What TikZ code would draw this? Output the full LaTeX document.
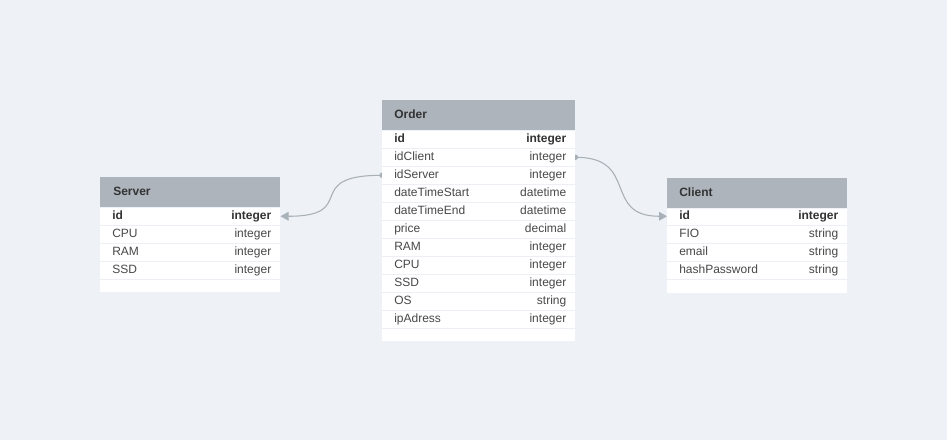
\documentclass[tikz,border=0pt]{standalone}
\usepackage{fontspec}
\setmainfont{Liberation Sans}
\usetikzlibrary{arrows.meta}
\definecolor{canvas}{RGB}{238,241,245}
\definecolor{hdrgray}{RGB}{173,180,188}
\definecolor{rowsep}{RGB}{236,240,244}
\definecolor{txtmain}{RGB}{72,72,72}
\definecolor{txtbold}{RGB}{51,51,51}
\definecolor{linkgray}{RGB}{168,176,184}
\pgfdeclarelayer{bg}
\pgfdeclarelayer{conn}
\pgfsetlayers{bg,conn,main}
\tikzset{
  hdr/.style={fill=hdrgray, draw=none, minimum height=22.5pt, inner sep=0pt, anchor=north west},
  body/.style={fill=white, draw=none, inner sep=0pt, anchor=north west},
  rowbox/.style={draw=none, minimum height=13.5pt, inner sep=0pt, anchor=north west},
  sepline/.style={draw=rowsep, line width=1.2pt},
  txt/.style={inner sep=0pt, text height=6.8pt, text depth=2pt},
  hdrtext/.style={txt, text=txtbold, font=\fontsize{9pt}{11pt}\selectfont\bfseries},
  plainfield/.style={txt, text=txtmain, font=\fontsize{9pt}{11pt}\selectfont},
  keyfield/.style={txt, text=txtbold, font=\fontsize{9pt}{11pt}\selectfont\bfseries},
  link/.style={draw=linkgray, line width=0.8pt},
  linktip/.style={-{Triangle[length=6pt,width=6.5pt]}, link},
}
\begin{document}
\begin{tikzpicture}[x=0.75pt,y=-0.75pt]
\begin{pgfonlayer}{bg}
  \fill[canvas] (0,0) rectangle (947,440);
\end{pgfonlayer}
\useasboundingbox (0,0) rectangle (947,440);

% ---------- Server ----------
\node[hdr, minimum width=135pt] (srvHead) at (100,177) {};
\node[hdrtext, anchor=west] at ([xshift=9.75pt]srvHead.west) {Server};
\node[body, minimum width=135pt, minimum height=63pt] (srvBody) at (srvHead.south west) {};
\foreach \n/\t/\s [count=\i] in {id/integer/keyfield, CPU/integer/plainfield, RAM/integer/plainfield, SSD/integer/plainfield} {
  \node[rowbox, minimum width=135pt] (srv-\i) at (100,{207+18*(\i-1)}) {};
  \draw[sepline] (srv-\i.south west) -- (srv-\i.south east);
  \node[\s, anchor=west] at ([xshift=9pt]srv-\i.west) {\n};
  \node[\s, anchor=east] at ([xshift=-6.75pt]srv-\i.east) {\t};
}

% ---------- Order ----------
\node[hdr, minimum width=144.75pt] (ordHead) at (382,100) {};
\node[hdrtext, anchor=west] at ([xshift=9pt]ordHead.west) {Order};
\node[body, minimum width=144.75pt, minimum height=157.5pt] (ordBody) at (ordHead.south west) {};
\foreach \n/\t/\s [count=\i] in {id/integer/keyfield, idClient/integer/plainfield, idServer/integer/plainfield,
    dateTimeStart/datetime/plainfield, dateTimeEnd/datetime/plainfield, price/decimal/plainfield,
    RAM/integer/plainfield, CPU/integer/plainfield, SSD/integer/plainfield, OS/string/plainfield,
    ipAdress/integer/plainfield} {
  \node[rowbox, minimum width=144.75pt] (ord-\i) at (382,{130+18*(\i-1)}) {};
  \draw[sepline] (ord-\i.south west) -- (ord-\i.south east);
  \node[\s, anchor=west] at ([xshift=9pt]ord-\i.west) {\n};
  \node[\s, anchor=east] at ([xshift=-6.75pt]ord-\i.east) {\t};
}

% ---------- Client ----------
\node[hdr, minimum width=135pt] (cliHead) at (667,178) {};
\node[hdrtext, anchor=west] at ([xshift=9pt]cliHead.west) {Client};
\node[body, minimum width=135pt, minimum height=63pt] (cliBody) at (cliHead.south west) {};
\foreach \n/\t/\s [count=\i] in {id/integer/keyfield, FIO/string/plainfield, email/string/plainfield, hashPassword/string/plainfield} {
  \node[rowbox, minimum width=135pt] (cli-\i) at (667,{207+18*(\i-1)}) {};
  \draw[sepline] (cli-\i.south west) -- (cli-\i.south east);
  \node[\s, anchor=west] at ([xshift=9pt]cli-\i.west) {\n};
  \node[\s, anchor=east] at ([xshift=-6.75pt]cli-\i.east) {\t};
}

% ---------- relations ----------
\begin{pgfonlayer}{conn}
  \fill[linkgray] (ord-3.west) circle (2pt);
  \draw[linktip] (ord-3.west) .. controls +(-82,0) and +(80,0) .. (srv-1.east);
  \fill[linkgray] (ord-2.east) circle (2pt);
  \draw[linktip] (ord-2.east) .. controls +(64,0) and +(-65,0) .. (cli-1.west);
\end{pgfonlayer}
\end{tikzpicture}
\end{document}
